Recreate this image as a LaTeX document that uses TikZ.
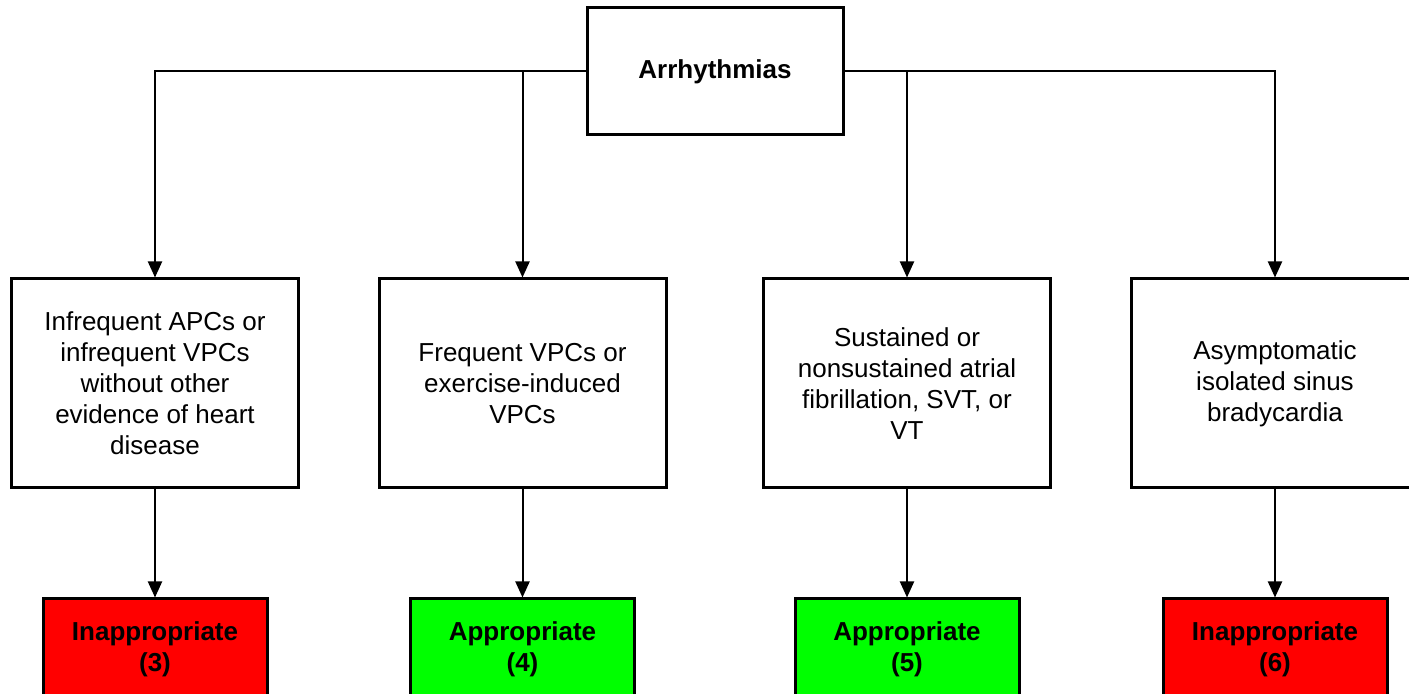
\documentclass[tikz,border=0pt]{standalone}
\usepackage{fontspec}
\setmainfont{Liberation Sans}
\usetikzlibrary{arrows.meta}
\definecolor{badred}{RGB}{255,0,0}
\definecolor{goodgreen}{RGB}{0,255,0}
\begin{document}
\begin{tikzpicture}[x=0.5pt,y=-0.5pt,
  every node/.style={font=\fontsize{13}{15.5}\selectfont, align=center, inner sep=0pt},
  topbox/.style={draw, line width=1.5pt, minimum width=128pt, minimum height=63.5pt, font=\fontsize{13}{15.5}\selectfont\bfseries},
  midbox/.style={draw, line width=1.5pt, minimum width=143.5pt, minimum height=104.5pt},
  verdict/.style={draw, line width=1.5pt, minimum width=112pt, minimum height=50pt, font=\fontsize{13}{15.5}\selectfont\bfseries},
  conn/.style={line width=1pt, -{Triangle[length=8pt,width=7pt]}}
]
\clip (0,0) rectangle (1409,694);
\fill[white] (0,0) rectangle (1409,694);

% root
\node[topbox] (root) at (715,71.5) {Arrhythmias};

% categories
\node[midbox] (c1) at (155,383.5) {Infrequent APCs or\\infrequent VPCs\\without other\\evidence of heart\\disease};
\node[midbox] (c2) at (522.5,383.5) {Frequent VPCs or\\exercise-induced\\VPCs};
\node[midbox] (c3) at (907,383.5) {Sustained or\\nonsustained atrial\\fibrillation, SVT, or\\VT};
\node[midbox] (c4) at (1275,383.5) {Asymptomatic\\isolated sinus\\bradycardia};

% verdicts
\node[verdict, fill=badred] (v1) at (155,649) {Inappropriate\\(3)};
\node[verdict, fill=goodgreen] (v2) at (522.5,649) {Appropriate\\(4)};
\node[verdict, fill=goodgreen] (v3) at (907,649) {Appropriate\\(5)};
\node[verdict, fill=badred] (v4) at (1275,649) {Inappropriate\\(6)};

% branches from the root
\draw[conn] (root.west) -| (c1.north);
\draw[conn] (root.east) -| (c4.north);
\draw[conn] (c2.north |- root.west) -- (c2.north);
\draw[conn] (c3.north |- root.east) -- (c3.north);

% category to verdict
\foreach \i in {1,...,4}
  \draw[conn] (c\i.south) -- (v\i.north);
\end{tikzpicture}
\end{document}
